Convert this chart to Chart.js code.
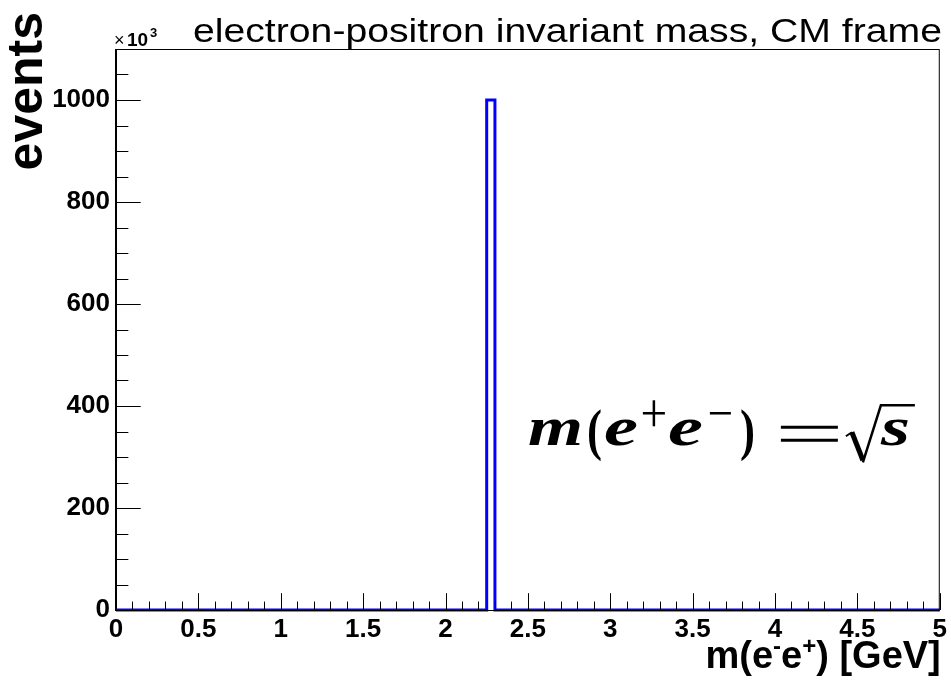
<!DOCTYPE html>
<html>
<head>
<meta charset="utf-8">
<script src="https://cdn.jsdelivr.net/npm/chart.js@4/dist/chart.umd.min.js"></script>
<style>
  body { margin: 0; background: #fff; }
  #wrap { width: 951px; height: 681px; }
</style>
</head>
<body>
<div id="wrap"><canvas id="myChart"></canvas></div>
<script>
// histogram: 100 bins from 0 to 5 GeV, counts in units of 10^3
var binLow = 0;
var binWidth = 0.05;
var binCounts = [
  0,0,0,0,0,0,0,0,0,0,
  0,0,0,0,0,0,0,0,0,0,
  0,0,0,0,0,0,0,0,0,0,
  0,0,0,0,0,0,0,0,0,0,
  0,0,0,0,0,1000,0,0,0,0,
  0,0,0,0,0,0,0,0,0,0,
  0,0,0,0,0,0,0,0,0,0,
  0,0,0,0,0,0,0,0,0,0,
  0,0,0,0,0,0,0,0,0,0,
  0,0,0,0,0,0,0,0,0,0
];
var xTickValues = [0, 0.5, 1, 1.5, 2, 2.5, 3, 3.5, 4, 4.5, 5];
var xTickLabels = ['0', '0.5', '1', '1.5', '2', '2.5', '3', '3.5', '4', '4.5', '5'];
var yTickValues = [0, 200, 400, 600, 800, 1000];
var yTickLabels = ['0', '200', '400', '600', '800', '1000'];
var xRange = [0, 5];
var yRange = [0, 1100];

var titleText = 'electron-positron invariant mass, CM frame';
var yTitle = 'events';

// points at the left edge of every bin, plus the closing edge
var histPoints = [];
for (var i = 0; i < binCounts.length; i++) {
    histPoints.push({x: binLow + i * binWidth, y: binCounts[i]});
}
histPoints.push({x: binLow + binCounts.length * binWidth, y: 0});

var sansB = function(px){ return 'bold ' + px + 'px "Liberation Sans", Arial, sans-serif'; };
var sans = function(px){ return px + 'px "Liberation Sans", Arial, sans-serif'; };

// draw text squeezed/stretched to a given width
function fitText(ctx, txt, x, y, w) {
    var m = ctx.measureText(txt).width;
    ctx.save();
    ctx.translate(x, y);
    ctx.scale(w / m, 1);
    ctx.fillText(txt, 0, 0);
    ctx.restore();
}

function seg(ctx, x1, y1, x2, y2) {
    ctx.beginPath();
    ctx.moveTo(x1, y1);
    ctx.lineTo(x2, y2);
    ctx.stroke();
}

// frame, inward ticks, titles and the formula
var rootStyle = {
    id: 'rootStyle',
    afterDraw: function(chart) {
        var ctx = chart.ctx;
        var a = chart.chartArea;
        var xs = chart.scales.x, ys = chart.scales.y;
        ctx.save();

        // frame
        ctx.strokeStyle = '#000';
        ctx.lineWidth = 1;
        ctx.strokeRect(a.left + 0.5, a.top + 0.5, a.right - a.left - 1, a.bottom - a.top);
        ctx.lineWidth = 2;
        seg(ctx, a.left, a.top, a.left, a.bottom + 1);

        // x ticks (major every 0.5, minor every 0.1)
        ctx.lineWidth = 1;
        var xMaj = (a.bottom - a.top) * 0.03;
        for (var k = 0; k <= 50; k++) {
            var px = Math.round(xs.getPixelForValue(k * 0.1)) + 0.5;
            seg(ctx, px, a.bottom, px, a.bottom - ((k % 5 === 0) ? xMaj : xMaj / 2));
        }
        // y ticks (major every 200, minor every 50)
        var yMaj = (a.right - a.left) * 0.03;
        for (var k = 0; k <= 22; k++) {
            var py = Math.round(ys.getPixelForValue(k * 50)) + 0.5;
            seg(ctx, a.left, py, a.left + ((k % 4 === 0) ? yMaj : yMaj / 2), py);
        }

        ctx.fillStyle = '#000';
        ctx.textBaseline = 'alphabetic';
        ctx.textAlign = 'left';
        // title
        ctx.font = sans(34);
        fitText(ctx, titleText, 193, 42, 749);

        // x10^3
        ctx.font = sans(18);
        ctx.fillText('\u00d7', 114, 46);
        ctx.font = sansB(19);
        ctx.fillText('10', 127, 46);
        ctx.font = sansB(13);
        ctx.fillText('3', 150, 37);

        // y title
        ctx.save();
        ctx.translate(42, 12);
        ctx.rotate(-Math.PI / 2);
        ctx.font = sansB(50);
        ctx.textAlign = 'right';
        ctx.fillText(yTitle, 0, 0);
        ctx.restore();

        // x title m(e-e+) [GeV], right aligned
        var parts = [
            {t: 'm(e', f: sansB(38), dy: 0},
            {t: '-', f: sansB(24), dy: -14},
            {t: 'e', f: sansB(38), dy: 0},
            {t: '+', f: sansB(24), dy: -14},
            {t: ') [GeV]', f: sansB(38), dy: 0}
        ];
        var total = 0;
        parts.forEach(function(p){ ctx.font = p.f; p.w = ctx.measureText(p.t).width; total += p.w; });
        var cx = a.right + 1 - total;
        parts.forEach(function(p){ ctx.font = p.f; ctx.fillText(p.t, cx, 668 + p.dy); cx += p.w; });

        // formula m(e+e-) = sqrt(s)
        var fx = xs.getPixelForValue(2.5);
        var fy = ys.getPixelForValue(323);
        var it = 'italic bold 54px "Liberation Serif", serif';
        var up = 'bold 56px "Liberation Serif", serif';
        var glyphs = [
            {t: 'm', f: it, off: 0, w: 55, dy: 0},
            {t: '(', f: up, off: 59, w: 15, dy: 4},
            {t: 'e', f: it, off: 76, w: 34, dy: 0},
            {t: 'e', f: it, off: 140, w: 35, dy: 0},
            {t: ')', f: up, off: 212, w: 15, dy: 4},
            {t: 's', f: it, off: 353, w: 29, dy: 0}
        ];
        glyphs.forEach(function(p){
            ctx.font = p.f;
            fitText(ctx, p.t, fx + p.off, fy + p.dy, p.w);
        });
        // superscript plus and minus, equals sign
        ctx.lineWidth = 2.5;
        seg(ctx, fx + 115, fy - 32, fx + 137, fy - 32);
        seg(ctx, fx + 126, fy - 45, fx + 126, fy - 19);
        seg(ctx, fx + 182, fy - 32, fx + 203, fy - 32);
        ctx.lineWidth = 3;
        seg(ctx, fx + 253, fy - 18, fx + 310, fy - 18);
        seg(ctx, fx + 253, fy - 5, fx + 310, fy - 5);
        // radical sign
        ctx.lineJoin = 'miter';
        ctx.lineWidth = 2;
        seg(ctx, fx + 318, fy - 9, fx + 324, fy - 13);
        ctx.lineWidth = 5;
        seg(ctx, fx + 324, fy - 13, fx + 335, fy + 15);
        ctx.lineWidth = 2.5;
        ctx.beginPath();
        ctx.moveTo(fx + 335, fy + 17);
        ctx.lineTo(fx + 353, fy - 40);
        ctx.lineTo(fx + 387, fy - 40);
        ctx.stroke();

        ctx.restore();
    }
};

const ctx = document.getElementById('myChart');
var myChart = new Chart(ctx, {
    type: 'line',
    data: {
        datasets: [{
            label: 'm(e-e+)',
            data: histPoints,
            stepped: 'before',
            borderColor: '#0000ff',
            borderWidth: 3,
            pointRadius: 0,
            fill: false,
            clip: 6
        }]
    },
    options: {
        responsive: true,
        maintainAspectRatio: false,
        animation: false,
        layout: { padding: { top: 49, right: 9, left: 0, bottom: 0 } },
        plugins: { legend: { display: false }, tooltip: { enabled: false } },
        scales: {
            x: {
                type: 'linear',
                min: xRange[0],
                max: xRange[1],
                afterBuildTicks: function(axis){ axis.ticks = xTickValues.map(function(v){ return {value: v}; }); },
                afterFit: function(axis){ axis.height = 71; },
                grid: { display: false, drawTicks: false },
                border: { display: false },
                ticks: {
                    padding: 4,
                    maxRotation: 0,
                    autoSkip: false,
                    color: '#000',
                    font: { family: '"Liberation Sans", Arial, sans-serif', weight: 'bold', size: 26 },
                    callback: function(v){ var i = xTickValues.indexOf(v); return i >= 0 ? xTickLabels[i] : ''; }
                }
            },
            y: {
                min: yRange[0],
                max: yRange[1],
                afterBuildTicks: function(axis){ axis.ticks = yTickValues.map(function(v){ return {value: v}; }); },
                afterFit: function(axis){ axis.width = 116; },
                grid: { display: false, drawTicks: false },
                border: { display: false },
                ticks: {
                    padding: 6,
                    color: '#000',
                    font: { family: '"Liberation Sans", Arial, sans-serif', weight: 'bold', size: 26 },
                    callback: function(v){ var i = yTickValues.indexOf(v); return i >= 0 ? yTickLabels[i] : ''; }
                }
            }
        }
    },
    plugins: [rootStyle]
});
</script>
</body>
</html>
